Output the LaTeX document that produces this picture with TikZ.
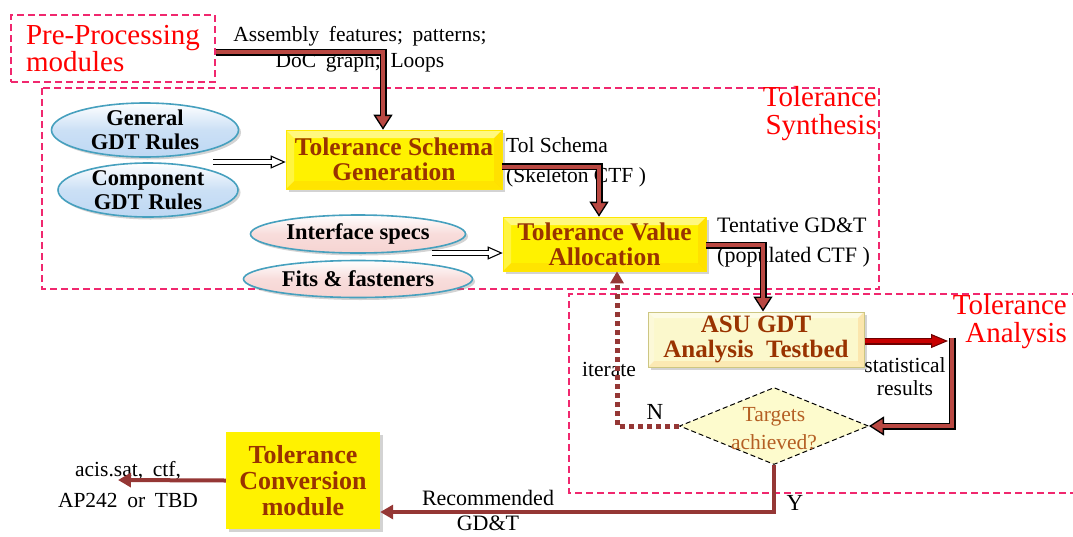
\documentclass[tikz,border=0pt]{standalone}
\usepackage{fontspec}
\setmainfont{Liberation Serif}
\usetikzlibrary{arrows.meta,shapes.geometric,shadows,calc}

\definecolor{dashpink}{RGB}{240,40,110}
\definecolor{lblred}{RGB}{255,0,0}
\definecolor{boxtxt}{RGB}{153,51,0}
\definecolor{arrowfill}{RGB}{185,72,66}
\definecolor{linebrown}{RGB}{149,55,53}
\definecolor{redbar}{RGB}{200,0,0}
\definecolor{darkredline}{RGB}{110,0,0}
\definecolor{blueedge}{RGB}{70,160,190}
\definecolor{bluefill}{RGB}{190,216,243}
\definecolor{pinkfill}{RGB}{246,212,210}
\definecolor{paleyellow}{RGB}{251,248,204}
\definecolor{paleedge}{RGB}{205,198,130}
\definecolor{diamondfill}{RGB}{253,251,205}
\definecolor{decisiontxt}{RGB}{180,95,35}

\newcommand\widewords{\spaceskip=.45em plus .1em\relax}

\tikzset{
  region/.style={draw=dashpink, dash pattern=on 7pt off 4pt, line width=1.5pt},
  regionlabel/.style={text=lblred, font=\fontsize{29}{28}\selectfont, align=right, inner sep=0pt},
  note/.style={font=\fontsize{21.5}{26}\selectfont, inner sep=0pt},
  shade/.style={drop shadow={opacity=0.35, shadow xshift=2.5pt, shadow yshift=-2.5pt}},
  bubble/.style={ellipse, line width=1.6pt, draw=blueedge, inner sep=0pt, shade},
  rulebubble/.style={bubble, top color=white, bottom color=bluefill, middle color=bluefill!80!white},
  specbubble/.style={bubble, top color=white, bottom color=pinkfill, middle color=pinkfill!80!white},
  bubbletext/.style={font=\bfseries\fontsize{22.5}{23.5}\selectfont, align=center, inner sep=0pt},
  bevel/.style={path picture={
      \fill[white, opacity=0.5] (path picture bounding box.north west) -- (path picture bounding box.north east)
        -- ([shift={(-#1,#1)}]path picture bounding box.north east) -- ([shift={(#1,#1)}]path picture bounding box.north west) -- cycle;
      \fill[white, opacity=0.25] (path picture bounding box.north west) -- ([shift={(#1,#1)}]path picture bounding box.north west)
        -- ([shift={(#1,-#1)}]path picture bounding box.south west) -- (path picture bounding box.south west) -- cycle;
      \fill[orange, opacity=0.12] (path picture bounding box.south west) -- (path picture bounding box.south east)
        -- ([shift={(-#1,-#1)}]path picture bounding box.south east) -- ([shift={(#1,-#1)}]path picture bounding box.south west) -- cycle;
      \fill[orange, opacity=0.15] (path picture bounding box.north east) -- ([shift={(-#1,#1)}]path picture bounding box.north east)
        -- ([shift={(-#1,-#1)}]path picture bounding box.south east) -- (path picture bounding box.south east) -- cycle;
  }},
  ybox/.style={rectangle, fill=yellow, draw=yellow!90!orange, line width=0.6pt, bevel=8, shade,
    text=boxtxt, font=\bfseries\fontsize{25.5}{25}\selectfont, align=center, inner sep=2pt},
  asubox/.style={rectangle, fill=paleyellow, draw=paleedge, line width=1pt, bevel=6, shade,
    text=boxtxt, font=\bfseries\fontsize{25}{25}\selectfont, align=center, inner sep=2pt},
  flatbox/.style={rectangle, fill=yellow, shade,
    text=boxtxt, font=\bfseries\fontsize{26}{26}\selectfont, align=center, inner sep=2pt},
  decision/.style={diamond, fill=diamondfill, draw=black, dash pattern=on 5pt off 3pt, line width=1pt,
    inner sep=0pt, minimum width=189pt, minimum height=77pt},
  dectext/.style={text=decisiontxt, font=\fontsize{21.5}{28}\selectfont, align=center, inner sep=0pt},
  % framed flow arrows: a dark outer stroke with a lighter core laid on top
  fatout/.style={draw=black, line width=7pt, line join=miter,
    -{Triangle[length=15pt, width=19pt, line width=1.3pt, fill=arrowfill]}},
  fatin/.style={draw=arrowfill, line width=4pt, line join=miter, shorten >=13pt},
  redout/.style={draw=darkredline, line width=7pt,
    -{Triangle[length=17pt, width=14pt, line width=1pt, fill=redbar]}},
  redin/.style={draw=redbar, line width=4.5pt, shorten >=15pt},
  hollowout/.style={draw=black, line width=6.5pt,
    -{Triangle[length=15pt, width=13pt, line width=1.1pt, fill=white]}},
  hollowin/.style={draw=white, line width=3.6pt, shorten >=13pt},
  iterline/.style={draw=linebrown, line width=5pt, dash pattern=on 5pt off 4pt,
    -{Triangle[length=12pt, width=13pt]}},
  plainflow/.style={draw=linebrown, line width=4pt, -{Triangle[length=13pt, width=14pt]}},
}

\begin{document}
\begin{tikzpicture}[x=1pt, y=-1pt]
\useasboundingbox (0,0) rectangle (1073,536);

% dashed regions
\draw[region] (42,88) rectangle (879,289);
\draw[region, line width=1.2pt] (1090,294) -- (569,294) -- (569,493) -- (1090,493);
\node[regionlabel, anchor=east] (synlbl) at (877,114) {Tolerance\\Synthesis};
\node[regionlabel, anchor=east] (analbl) at (1067,322) {Tolerance\\Analysis};

% pre-processing block
\node[region, line width=1.6pt, rectangle, minimum width=204pt, minimum height=67pt, inner sep=0pt,
  text=lblred, font=\fontsize{29}{27}\selectfont, align=left] (pre) at (113,48.5) {Pre-Processing\\modules};
\node[note, font=\fontsize{21.5}{26}\selectfont\widewords, align=center] (asm) at (360,49) {Assembly features; patterns;\\DoC graph; Loops};

% rule inputs
\node[rulebubble, minimum width=187pt, minimum height=54pt] (gen) at (145,130) {};
\node[bubbletext] (gen-txt) at (gen) {General\\GDT Rules};
\node[rulebubble, minimum width=180pt, minimum height=54pt] (comp) at (148,190) {};
\node[bubbletext] (comp-txt) at (comp) {Component\\GDT Rules};
\node[specbubble, minimum width=215pt, minimum height=38pt] (iface) at (358,234) {};
\node[bubbletext] (iface-txt) at (iface) {Interface specs};
\node[specbubble, minimum width=229pt, minimum height=37pt] (fits) at (358,279) {};
\node[bubbletext] (fits-txt) at (fits) {Fits \& fasteners};

% process boxes
\node[ybox, minimum width=216pt, minimum height=59pt] (tsg) at (394,159.5) {Tolerance Schema\\Generation};
\node[ybox, minimum width=203pt, minimum height=54pt] (tva) at (604.5,244) {Tolerance Value\\Allocation};
\node[asubox, minimum width=216pt, minimum height=55pt] (asu) at (756,339.5) {ASU GDT\\Analysis\ \ Testbed};
\node[flatbox, minimum width=154pt, minimum height=97pt] (tc) at (303,480.5) {Tolerance\\Conversion\\module};
\node[decision] (dec) at (774,426) {};
\node[dectext] (dec-txt) at (774,429) {Targets\\achieved?};

% annotations
\node[note, font=\fontsize{21.5}{30}\selectfont, anchor=west, align=left] (tolsch) at (506,162) {Tol Schema\\(Skeleton CTF )};
\node[note, font=\fontsize{22}{30}\selectfont, anchor=west, align=left] (tent) at (717,243) {Tentative GD\&T\\(populated CTF )};
\node[note, font=\fontsize{21.5}{23}\selectfont, align=center] (stat) at (905,376.5) {statistical\\results};
\node[note] (iter) at (609,369) {iterate};
\node[note, font=\fontsize{23}{26}\selectfont] (nlbl) at (655,412) {N};
\node[note, font=\fontsize{23}{26}\selectfont] (ylbl) at (795,503) {Y};
\node[note, font=\fontsize{22}{25}\selectfont, align=center] (rec) at (488,510) {Recommended\\GD\&T};
\node[note, font=\fontsize{21.5}{31}\selectfont\widewords, align=center] (outfmt) at (128,484.5) {acis.sat, ctf,\\AP242 or TBD};

% free ends of connectors
\coordinate (rules-out) at (213,162);
\coordinate (specs-out) at (432,253);
\coordinate (red-end) at (948,341);
\coordinate (stat-top) at (952,337.5);
\coordinate (fmt-end) at (118,480);

% main flow
\draw[fatout] ($(pre.east)+(0,3.5)$) -| ($(tsg.north)+(-11,0)$);
\draw[fatin]  ($(pre.east)+(0,3.5)$) -| ($(tsg.north)+(-11,0)$);
\draw[fatout] ($(tsg.east)+(0,7)$) -| ($(tva.north)+(-5.5,0)$);
\draw[fatin]  ($(tsg.east)+(0,7)$) -| ($(tva.north)+(-5.5,0)$);
\draw[fatout] ($(tva.east)+(0,1)$) -| ($(asu.north)+(7,0)$);
\draw[fatin]  ($(tva.east)+(0,1)$) -| ($(asu.north)+(7,0)$);

% inputs
\draw[hollowout] (rules-out) -- (rules-out -| tsg.west);
\draw[hollowin]  (rules-out) -- (rules-out -| tsg.west);
\draw[hollowout] (specs-out) -- (specs-out -| tva.west);
\draw[hollowin]  (specs-out) -- (specs-out -| tva.west);

% analysis loop
\draw[redout] ($(asu.east)+(0,1.5)$) -- (red-end);
\draw[redin]  ($(asu.east)+(0,1.5)$) -- (red-end);
\draw[fatout] (stat-top) |- (dec.east);
\draw[fatin]  (stat-top) |- (dec.east);
\draw[iterline] (dec.west) -| ($(tva.south)+(12.5,0)$);
\draw[plainflow] (dec.south) |- ($(tc.east)+(0,31.5)$);
\draw[plainflow] (tc.west) -- (fmt-end);
\end{tikzpicture}
\end{document}
